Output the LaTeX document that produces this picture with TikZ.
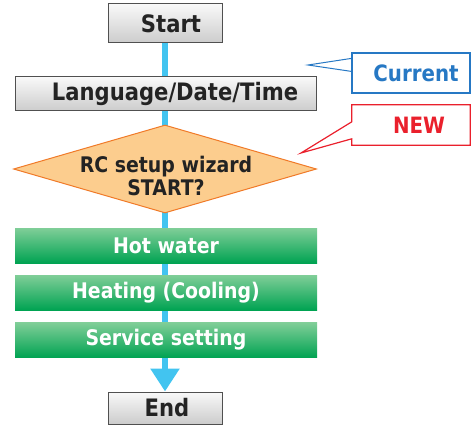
\documentclass[tikz,border=0pt]{standalone}
\usepackage{fontspec}
\setmainfont[FakeStretch=0.88]{DejaVu Sans}
\usetikzlibrary{positioning,shapes,arrows.meta,calc,backgrounds}

\definecolor{flowblue}{RGB}{66,196,240}
\definecolor{boxline}{RGB}{80,80,80}
\definecolor{darktext}{RGB}{35,35,35}
\definecolor{greentop}{RGB}{128,206,152}
\definecolor{greenbot}{RGB}{0,163,82}
\definecolor{wizfill}{RGB}{252,205,142}
\definecolor{wizline}{RGB}{240,122,40}
\definecolor{curblue}{RGB}{38,120,196}
\definecolor{newred}{RGB}{234,32,44}

\begin{document}
\begin{tikzpicture}[x=1pt,y=-1pt,
  gray node/.style={rectangle,draw=boxline,line width=1pt,top color=gray!5,bottom color=gray!40,inner sep=0pt,text=darktext,font=\fontsize{24}{27}\selectfont\bfseries},
  green node/.style={rectangle,top color=greentop,middle color=greenbot,bottom color=greenbot,minimum width=302pt,minimum height=35pt,inner sep=0pt,text=white,font=\fontsize{21.5}{24}\selectfont\bfseries},
  call node/.style={rectangle,minimum width=118pt,minimum height=40pt,inner sep=0pt,fill=white,font=\fontsize{22.5}{26}\selectfont\bfseries}]
  \useasboundingbox (0,0) rectangle (471,425);

  % main flow
  \node[gray node,minimum width=114pt,minimum height=39pt] (start) at (165,23.5) {\hspace*{12pt}Start};
  \node[gray node,minimum width=301pt,minimum height=34pt] (lang) at (165.5,94) {\hspace*{19pt}Language/Date/Time};
  \node[diamond,draw=wizline,line width=1pt,fill=wizfill,minimum width=303pt,minimum height=88pt,inner sep=0pt] (wiz) at (165,169) {};
  \node[align=center,text=darktext,font=\fontsize{21.5}{23}\selectfont\bfseries] (wiztext) at (166,176) {RC setup wizard\\START?};
  \node[green node] (hot) at (166,245.5) {Hot water};
  \node[green node] (heat) at (166,292.5) {Heating (Cooling)};
  \node[green node] (service) at (166,340) {Service setting};
  \node[gray node,minimum width=114pt,minimum height=32pt] (end) at (165,408) {\hspace*{4pt}End};

  \begin{scope}[on background layer]
    \draw[flowblue,line width=6pt,-{Triangle[length=23pt,width=28pt]}] (start.south) -- (end.north);
  \end{scope}

  % callouts
  \node[call node,draw=curblue,line width=1.2pt,text=curblue] (cur) at (411,73) {\hspace*{10pt}Current};
  \coordinate (curtip) at (308,65);
  \draw[curblue,line width=1pt] ($(cur.north west)+(0,6)$) -- (curtip) -- ($(cur.north west)+(0,19)$);

  \node[call node,text=newred] (new) at (411,125) {\hspace*{16pt}NEW};
  \coordinate (newtip) at (301,153);
  \draw[newred,line width=1.2pt] (new.north west) -- (new.north east) -- (new.south east) -- (new.south west)
    -- ($(new.north west)+(0,34)$) -- (newtip) -- ($(new.north west)+(0,17)$) -- cycle;
\end{tikzpicture}
\end{document}
